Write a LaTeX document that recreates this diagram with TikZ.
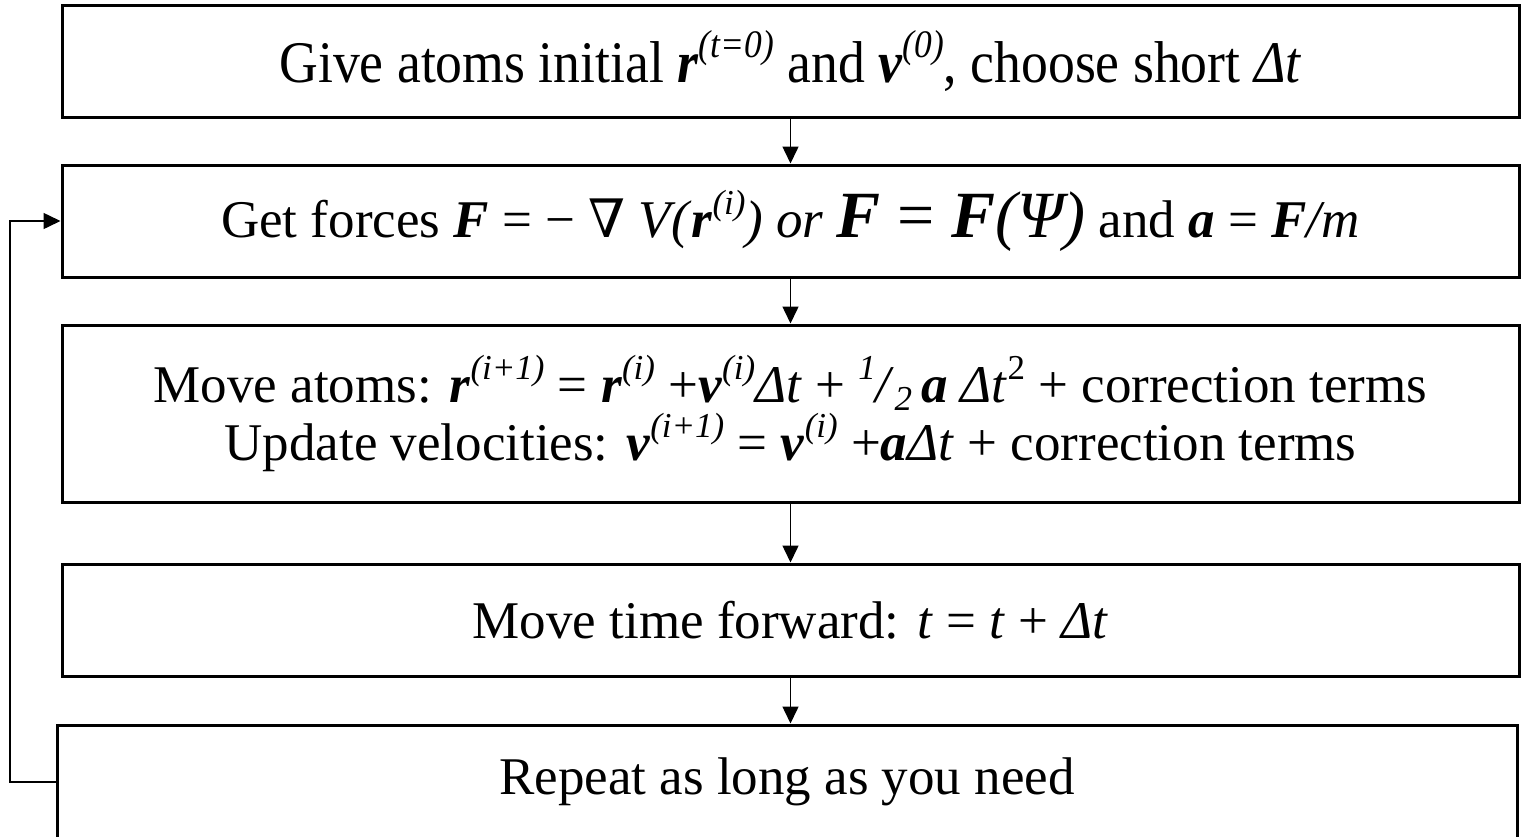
\documentclass[tikz,border=0pt]{standalone}
\usepackage{fontspec}
\setmainfont{Liberation Serif}
\newfontfamily\symfont{DejaVu Serif}
\usetikzlibrary{arrows.meta}
\newcommand{\bi}[1]{\textbf{\textit{#1}}}
\newcommand{\sx}[1]{\raisebox{0.42em}{\scalebox{0.66}{\textit{#1}}}}
\newcommand{\sux}[1]{\raisebox{0.42em}{\scalebox{0.66}{#1}}}
\newcommand{\sbx}[1]{\raisebox{-0.16em}{\scalebox{0.66}{\textit{#1}}}}
\newcommand{\bigF}{\fontsize{66}{70}\selectfont}
\begin{document}
\begin{tikzpicture}[x=1pt,y=-1pt,
  box/.style={draw, line width=3pt, minimum width=1457pt, inner sep=0pt, align=center,
    font=\fontsize{53}{58}\selectfont},
  arr/.style={line width=1.5pt, -{Triangle[length=17pt,width=16pt]}}]
\useasboundingbox (0,0) rectangle (1521,836);
\node[box, minimum height=112pt] (b1) at (790.5,61)
  {\fontsize{59}{64}\selectfont\scalebox{0.91}[1]{Give atoms initial \bi{r}\sx{(t=0)} and \bi{v}\sx{(0)}, choose short \textit{Δt}}};
\node[box, minimum height=112pt] (b2) at (790.5,221)
  {Get forces \bi{F} = − {\symfont∇} \textit{V(}\bi{r}\sx{(i)}\textit{) or} {\bigF\bi{F} = \bi{F}\textit{(Ψ)}} and \bi{a} = \bi{F}\textit{/m}};
\node[box, minimum height=177pt] (b3) at (790.5,413.5)
  {Move atoms: \bi{r}\sx{(i+1)} = \bi{r}\sx{(i)} +\bi{v}\sx{(i)}\textit{Δt} + \sx{1}\textit{/}\sbx{2}\,\bi{a} \textit{Δt}\sux{2} + correction terms\\
   Update velocities: \bi{v}\sx{(i+1)} = \bi{v}\sx{(i)} +\bi{a}\textit{Δt} + correction terms};
\node[box, minimum height=112pt] (b4) at (790.5,620)
  {Move time forward: \textit{t} = \textit{t} + \textit{Δt}};
\node[box, minimum width=1460pt, minimum height=114pt] (b5) at (787,782)
  {Repeat as long as you need};
\coordinate (lp) at (10,0);
\draw[arr] (b1.south) -- (b2.north);
\draw[arr] (b2.south) -- (b3.north);
\draw[arr] (b3.south) -- (b4.north);
\draw[arr] (b4.south) -- (b4.south |- b5.north);
\draw[arr] (b5.west) -- (b5.west -| lp) |- (b2.west);
\end{tikzpicture}
\end{document}
